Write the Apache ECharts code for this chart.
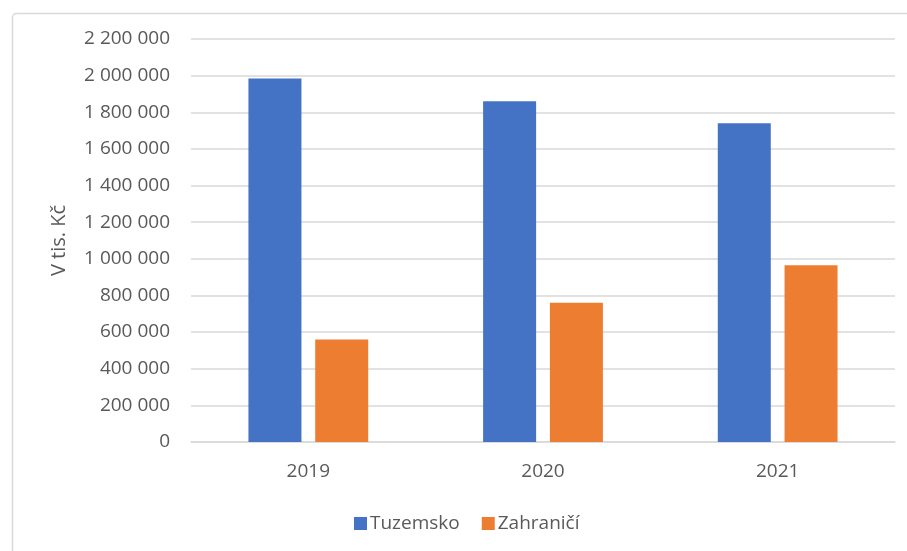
<!DOCTYPE html>
<html><head><meta charset="utf-8">
<script src="https://cdn.jsdelivr.net/npm/echarts@6/dist/echarts.min.js"></script>
<style>html,body{margin:0;padding:0;background:#fff}#c{width:907px;height:551px}</style>
</head><body><div id="c"></div>
<script>
const categories = ['2019', '2020', '2021'];
const tuzemsko = [1984000, 1860000, 1740000];
const zahranici = [560000, 760000, 965000];
const seriesNames = ['Tuzemsko', 'Zahraničí'];
const yAxisName = 'V tis. Kč';

const chart = echarts.init(document.getElementById('c'));
const font = '"Open Sans", "Liberation Sans", sans-serif';
const fmt = v => String(v).replace(/\B(?=(\d{3})+(?!\d))/g, ' ');
chart.setOption({
  animation: false,
  textStyle: { fontFamily: font },
  graphic: [{
    type: 'rect', left: 10, top: 11,
    shape: { width: 1000, height: 1000, r: 4 },
    style: { fill: 'none', stroke: '#D9D9D9', lineWidth: 1.5 },
    silent: true, z: -1
  }],
  grid: { left: 191, right: 12, top: 39, bottom: 109, containLabel: false },
  legend: {
    data: seriesNames, left: 349, top: 509,
    itemWidth: 13, itemHeight: 13, itemGap: 22,
    icon: 'rect',
    textStyle: { fontSize: 19, color: '#595959', fontFamily: font, padding: [0, 0, 0, -2] }
  },
  xAxis: {
    type: 'category', data: categories,
    axisLine: { lineStyle: { color: '#D9D9D9', width: 1.5 } },
    axisTick: { show: false },
    axisLabel: { fontSize: 19, color: '#595959', margin: 20, fontFamily: font }
  },
  yAxis: {
    type: 'value', min: 0, max: 2200000, interval: 200000,
    name: yAxisName, nameLocation: 'middle', nameGap: 122, nameRotate: 90,
    nameTextStyle: { fontSize: 20, color: '#595959', fontFamily: font },
    axisLine: { show: false }, axisTick: { show: false },
    splitLine: { lineStyle: { color: '#D9D9D9', width: 1.5 } },
    axisLabel: { fontSize: 19, color: '#595959', margin: 21, fontFamily: font, formatter: fmt }
  },
  series: [
    { name: seriesNames[0], type: 'bar', data: tuzemsko, barWidth: 53, barGap: '26%',
      itemStyle: { color: '#4472C4' } },
    { name: seriesNames[1], type: 'bar', data: zahranici, barWidth: 53, barGap: '26%',
      itemStyle: { color: '#ED7D31' } }
  ]
});
</script></body></html>
